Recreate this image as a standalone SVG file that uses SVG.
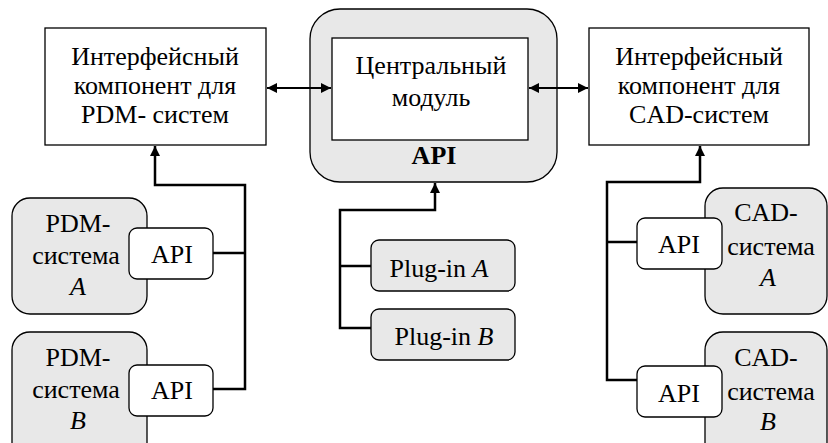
<svg xmlns="http://www.w3.org/2000/svg" width="828" height="443" viewBox="0 0 828 443">
<style>
text{font-family:"Liberation Serif","Times New Roman",serif;font-size:26px;fill:#000;text-anchor:middle}
.box{fill:#fff;stroke:#000;stroke-width:1.3}
.gray{fill:#e8e8e8;stroke:#000;stroke-width:1.3}
.api{fill:#fff;stroke:#000;stroke-width:1.3}
.conn{fill:none;stroke:#000;stroke-width:2.5}
.dbl{fill:none;stroke:#000;stroke-width:2}
.b{font-weight:bold}
.i{font-style:italic}
</style>
<defs>
<marker id="ah" viewBox="0 0 10 10" refX="10" refY="5" markerWidth="10" markerHeight="10" markerUnits="userSpaceOnUse" orient="auto-start-reverse">
<path d="M0,0 L10,5 L0,10 z" fill="#000"/>
</marker>
</defs>
<rect width="828" height="443" fill="#fff"/>
<g id="pdm-interface">
<rect class="box" x="45" y="28" width="221" height="117"/>
<text x="155" y="65">Интерфейсный</text>
<text x="155" y="94">компонент для</text>
<text x="155" y="123">PDM- систем</text>
</g>
<g id="central">
<rect class="gray" x="310" y="9" width="247" height="173" rx="30"/>
<rect class="box" x="332" y="38" width="196" height="102"/>
<text x="431" y="74">Центральный</text>
<text x="431" y="106">модуль</text>
<text class="b" x="434" y="164">API</text>
</g>
<g id="cad-interface">
<rect class="box" x="589" y="28" width="220" height="117"/>
<text x="699" y="65">Интерфейсный</text>
<text x="699" y="94">компонент для</text>
<text x="699" y="123">CAD-систем</text>
</g>
<g id="pdm-a">
<rect class="gray" x="12" y="198" width="135" height="116" rx="18"/>
<text x="78" y="232">PDM-</text>
<text x="76" y="264">система</text>
<text class="i" x="78" y="295">A</text>
<rect class="api" x="129" y="228" width="84" height="51" rx="8"/>
<text x="172" y="263">API</text>
</g>
<g id="pdm-b">
<rect class="gray" x="12" y="332" width="135" height="130" rx="18"/>
<text x="78" y="366">PDM-</text>
<text x="76" y="398">система</text>
<text class="i" x="78" y="429">B</text>
<rect class="api" x="129" y="365" width="84" height="51" rx="8"/>
<text x="172" y="399">API</text>
</g>
<g id="plugin-a">
<rect class="gray" x="371" y="240" width="144" height="51" rx="8"/>
<text x="439" y="277">Plug-in <tspan class="i">A</tspan></text>
</g>
<g id="plugin-b">
<rect class="gray" x="371" y="309" width="144" height="51" rx="8"/>
<text x="444" y="345">Plug-in <tspan class="i">B</tspan></text>
</g>
<g id="cad-a">
<rect class="gray" x="705" y="188" width="122" height="126" rx="18"/>
<text x="766" y="221">CAD-</text>
<text x="771" y="255">система</text>
<text class="i" x="768" y="286">A</text>
<rect class="api" x="637" y="218" width="85" height="51" rx="8"/>
<text x="679" y="253">API</text>
</g>
<g id="cad-b">
<rect class="gray" x="705" y="332" width="122" height="130" rx="18"/>
<text x="766" y="366">CAD-</text>
<text x="771" y="400">система</text>
<text class="i" x="768" y="430">B</text>
<rect class="api" x="637" y="366" width="85" height="51" rx="8"/>
<text x="679" y="402">API</text>
</g>
<g id="connectors">
<line class="dbl" x1="267" y1="88" x2="331" y2="88" marker-start="url(#ah)" marker-end="url(#ah)"/>
<line class="dbl" x1="529" y1="88" x2="588" y2="88" marker-start="url(#ah)" marker-end="url(#ah)"/>
<path class="conn" d="M213,253 H245 M213,389 H245 V185 H155 V146" marker-end="url(#ah)"/>
<path class="conn" d="M371,266 H340 M371,328 H340 V210 H435 V183" marker-end="url(#ah)"/>
<path class="conn" d="M637,242 H607 M637,380 H607 V182 H700 V146" marker-end="url(#ah)"/>
</g>
</svg>
